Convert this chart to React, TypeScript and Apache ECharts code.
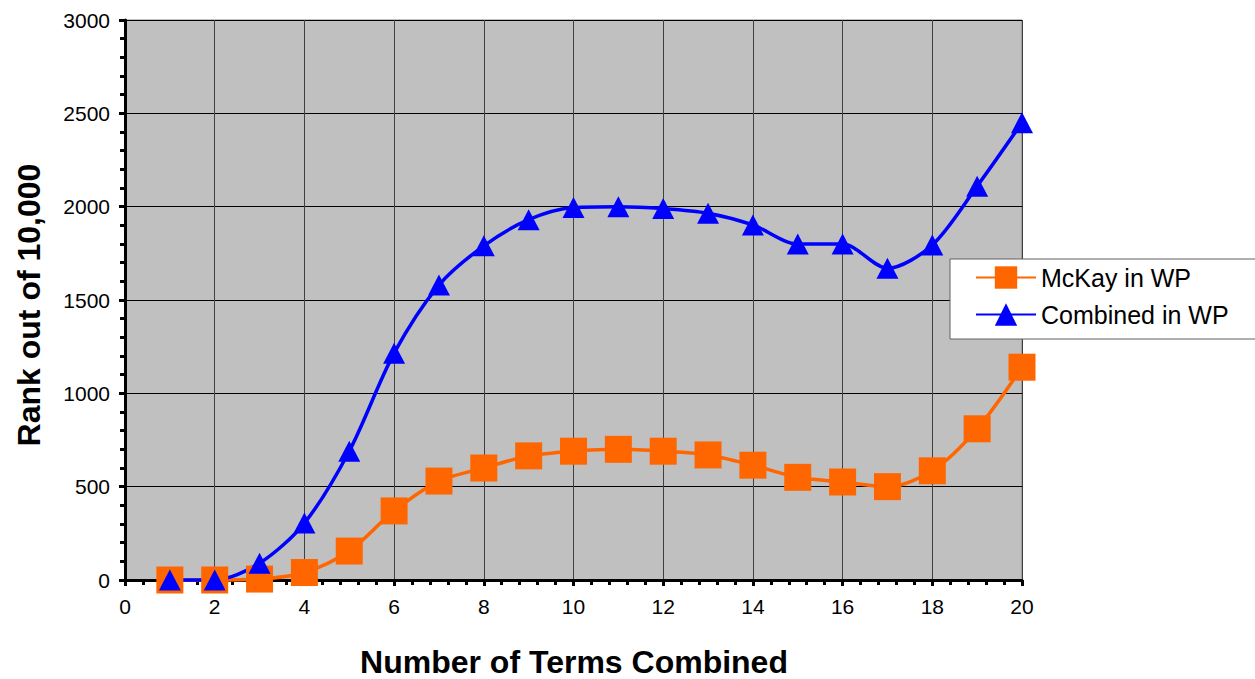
import React, { useEffect, useRef } from "react";
import * as echarts from "echarts";

const terms = [1, 2, 3, 4, 5, 6, 7, 8, 9, 10, 11, 12, 13, 14, 15, 16, 17, 18, 19, 20];
const mckayInWP = [0, 0, 5, 40, 155, 370, 530, 600, 665, 690, 700, 690, 670, 615, 550, 525, 500, 585, 810, 1140];
const combinedInWP = [0, 0, 90, 305, 690, 1215, 1580, 1790, 1930, 1995, 2000, 1990, 1965, 1902, 1800, 1800, 1670, 1795, 2110, 2450];
const seriesNames = ["McKay in WP", "Combined in WP"];
const xTitle = "Number of Terms Combined";
const yTitle = "Rank out of 10,000";

const FONT = "'Liberation Sans', Arial, sans-serif";

export default function App() {
  const ref = useRef<HTMLDivElement>(null);
  useEffect(() => {
    if (!ref.current) return;
    document.body.style.margin = "0";
    const chart = echarts.init(ref.current, undefined, { renderer: "svg" });
    chart.setOption({
      animation: false,
      backgroundColor: "#ffffff",
      textStyle: { fontFamily: FONT },
      grid: {
        left: 125,
        right: 233,
        top: 20,
        bottom: 99,
        show: true,
        backgroundColor: "#C0C0C0",
        borderColor: "#808080",
        borderWidth: 1,
      },
      legend: {
        left: 950,
        top: 259,
        orient: "vertical",
        data: seriesNames,
        itemWidth: 60,
        itemHeight: 28,
        itemGap: 12,
        padding: [6, 30, 12, 25],
        backgroundColor: "#ffffff",
        borderColor: "#606060",
        borderWidth: 1,
        textStyle: { fontFamily: FONT, fontSize: 25, color: "#000" },
      },
      xAxis: {
        type: "value",
        min: 0,
        max: 20,
        interval: 2,
        axisLine: { show: true, onZero: false, lineStyle: { color: "#000", width: 3 } },
        axisTick: { show: true, length: 6, lineStyle: { color: "#000", width: 3 } },
        minorTick: { show: true, splitNumber: 5, length: 5, lineStyle: { color: "#000", width: 3 } },
        splitLine: { show: true, lineStyle: { color: "#404040", width: 1 } },
        axisLabel: { fontFamily: FONT, fontSize: 21, color: "#000", margin: 16 },
      },
      yAxis: {
        type: "value",
        min: 0,
        max: 3000,
        interval: 500,
        axisLine: { show: true, lineStyle: { color: "#000", width: 3 } },
        axisTick: { show: true, length: 6, lineStyle: { color: "#000", width: 3 } },
        minorTick: { show: true, splitNumber: 5, length: 5, lineStyle: { color: "#000", width: 3 } },
        splitLine: { show: true, lineStyle: { color: "#000", width: 1 } },
        axisLabel: {
          fontFamily: FONT,
          fontSize: 21,
          color: "#000",
          margin: 15,
          formatter: (v: number) => String(v),
        },
      },
      graphic: [
        {
          type: "text",
          x: 29,
          y: 305,
          rotation: Math.PI / 2,
          style: {
            text: yTitle,
            fontFamily: FONT,
            fontSize: 32,
            fontWeight: "bold",
            fill: "#000",
            align: "center",
            verticalAlign: "middle",
          },
        },
        {
          type: "text",
          x: 574,
          y: 662,
          style: {
            text: xTitle,
            fontFamily: FONT,
            fontSize: 32,
            fontWeight: "bold",
            fill: "#000",
            align: "center",
            verticalAlign: "middle",
          },
        },
      ],
      series: [
        {
          name: seriesNames[0],
          type: "line",
          data: terms.map((t, i) => [t, mckayInWP[i]]),
          smooth: 0.3,
          clip: false,
          symbol: "rect",
          symbolSize: 27,
          itemStyle: { color: "#FF6600" },
          lineStyle: { color: "#FF6600", width: 3.5 },
        },
        {
          name: seriesNames[1],
          type: "line",
          data: terms.map((t, i) => [t, combinedInWP[i]]),
          smooth: 0.3,
          clip: false,
          symbol: "triangle",
          symbolSize: [22, 21],
          itemStyle: { color: "#0000FF" },
          lineStyle: { color: "#0000FF", width: 3.5 },
        },
      ],
    });
    return () => chart.dispose();
  }, []);
  return (
    <div
      ref={ref}
      style={{ position: "absolute", left: 0, top: 0, width: 1255, height: 679 }}
    />
  );
}
